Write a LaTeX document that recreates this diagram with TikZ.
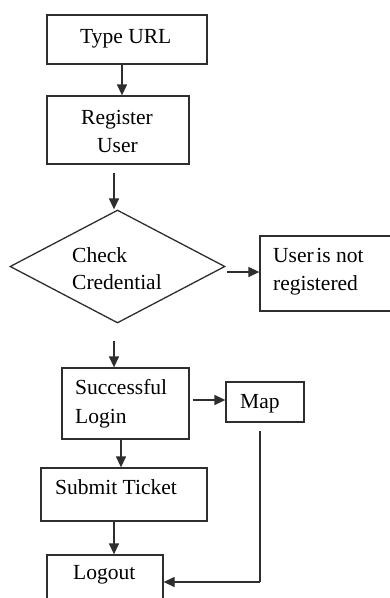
\documentclass[tikz,border=0pt]{standalone}
\usepackage{fontspec}
\setmainfont{Liberation Serif}
\usetikzlibrary{arrows.meta,shapes.geometric}
\definecolor{linec}{HTML}{2E2E2E}
\tikzset{
  box/.style={draw=linec, line width=1.3pt, rectangle, inner sep=0pt, fill=none},
  dia/.style={draw=linec, line width=1.3pt, diamond, inner sep=0pt, aspect=1.9},
  txt/.style={anchor=base west, inner sep=0pt, font=\fontsize{21.5pt}{26pt}\selectfont, text=black},
  arr/.style={draw=linec, line width=1.3pt, -{Triangle[length=11pt,width=10pt]}},
  ln/.style={draw=linec, line width=1.3pt}
}
\begin{document}
\begin{tikzpicture}[x=1pt, y=-1pt]
\clip (0,0) rectangle (390,598);
\fill[white] (0,0) rectangle (390,598);
% boxes
\node[box, minimum width=160pt, minimum height=49pt] (tu) at (127,39.5) {};
\node[box, minimum width=142pt, minimum height=68pt] (ru) at (118,130) {};
\node[dia, minimum width=215pt, minimum height=113pt] (cc) at (117.5,266.5) {};
\node[box, minimum width=140pt, minimum height=75pt] (unr) at (330,273.5) {};
\node[box, minimum width=127pt, minimum height=71pt] (sl) at (125.5,403.5) {};
\node[box, minimum width=78pt, minimum height=40pt] (map) at (265,402) {};
\node[box, minimum width=166pt, minimum height=53pt] (st) at (124,494.5) {};
\node[box, minimum width=116pt, minimum height=65pt] (lo) at (105,587.5) {};
% texts
\node[txt] (t1) at (80,43) {Type URL};
\node[txt] (t2) at (81,124) {Register};
\node[txt] (t3) at (97,152) {User};
\node[txt] (t4) at (72,262) {Check};
\node[txt] (t5) at (72,289) {Credential};
\node[txt] (t6) at (273,262) {User\hspace{0.12em}is not};
\node[txt] (t7) at (273,290) {registered};
\node[txt] (t8) at (75,394) {Successful};
\node[txt] (t9) at (75,423) {Login};
\node[txt] (t10) at (240,408) {Map};
\node[txt] (t11) at (55,494) {Submit Ticket};
\node[txt] (t12) at (73,579) {Logout};
% guide coordinates
\coordinate (x1) at (122,0);
\coordinate (x2) at (114,0);
\coordinate (x3) at (121,0);
\coordinate (y1) at (0,272);
\coordinate (y2) at (0,400);
\coordinate (mx) at (260,431);
\coordinate (corner) at (260,582);
% connectors
\draw[arr] (tu.south -| x1) -- (ru.north -| x1);
\draw[arr, shorten <=8pt] (ru.south -| x2) -- (cc.north -| x2);
\draw[arr] (cc.east |- y1) ++(1,0) -- (unr.west |- y1);
\draw[arr, shorten <=17pt] (cc.south -| x2) -- (sl.north -| x2);
\draw[arr, shorten <=3pt] (sl.east |- y2) -- (map.west |- y2);
\draw[arr] (sl.south -| x3) -- (st.north -| x3);
\draw[arr] (st.south -| x2) -- (lo.north -| x2);
\draw[ln] (mx) -- (corner);
\draw[arr] (corner) -- (lo.east |- corner);
\end{tikzpicture}
\end{document}
